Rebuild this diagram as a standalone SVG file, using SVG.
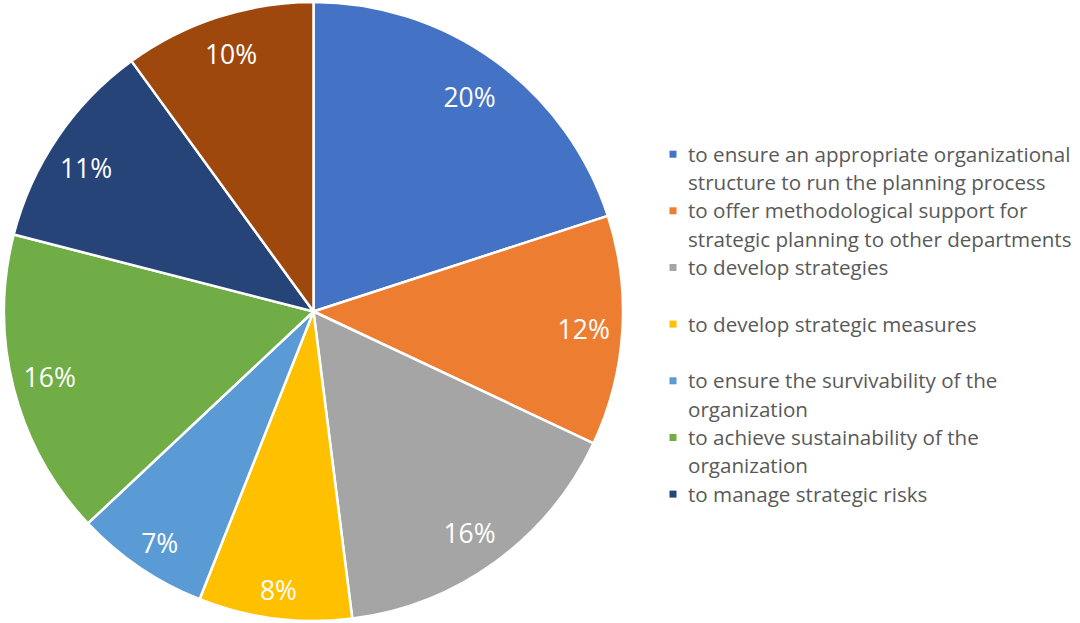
<svg xmlns="http://www.w3.org/2000/svg" width="1080" height="623" viewBox="0 0 1080 623">
<style>
.slice{stroke:#FFFFFF;stroke-width:2.5;stroke-linejoin:round}
.pct{font-family:"Open Sans","Liberation Sans",sans-serif;font-size:26.5px;fill:#FFFFFF;text-anchor:middle}
.leg{font-family:"Open Sans","Liberation Sans",sans-serif;font-size:20.6px;fill:#595959}
</style>
<rect width="1080" height="623" fill="#FFFFFF"/>
<g id="pie">
<g id="slice-1"><path class="slice" fill="#4472C4" d="M313.5,311.5 L313.5,2 A309.5,309.5 0 0 1 607.85,215.86 Z"/><text class="pct" x="469.5" y="107.3">20%</text></g>
<g id="slice-2"><path class="slice" fill="#ED7D31" d="M313.5,311.5 L607.85,215.86 A309.5,309.5 0 0 1 593.54,443.28 Z"/><text class="pct" x="583.7" y="339">12%</text></g>
<g id="slice-3"><path class="slice" fill="#A5A5A5" d="M313.5,311.5 L593.54,443.28 A309.5,309.5 0 0 1 352.29,618.56 Z"/><text class="pct" x="469.5" y="543.3">16%</text></g>
<g id="slice-4"><path class="slice" fill="#FFC000" d="M313.5,311.5 L352.29,618.56 A309.5,309.5 0 0 1 199.57,599.27 Z"/><text class="pct" x="278.5" y="600">8%</text></g>
<g id="slice-5"><path class="slice" fill="#5B9BD5" d="M313.5,311.5 L199.57,599.27 A309.5,309.5 0 0 1 87.88,523.37 Z"/><text class="pct" x="159.7" y="553.3">7%</text></g>
<g id="slice-6"><path class="slice" fill="#70AD47" d="M313.5,311.5 L87.88,523.37 A309.5,309.5 0 0 1 13.72,234.53 Z"/><text class="pct" x="49.7" y="386.7">16%</text></g>
<g id="slice-7"><path class="slice" fill="#264478" d="M313.5,311.5 L13.72,234.53 A309.5,309.5 0 0 1 131.58,61.11 Z"/><text class="pct" x="86" y="178.3">11%</text></g>
<g id="slice-8"><path class="slice" fill="#9E480E" d="M313.5,311.5 L131.58,61.11 A309.5,309.5 0 0 1 313.5,2 Z"/><text class="pct" x="231" y="64.3">10%</text></g>
</g>
<g id="legend">
<g id="legend-1"><rect x="669.5" y="150.7" width="7" height="7" fill="#4472C4"/><text class="leg" x="688" y="161.7">to ensure an appropriate organizational</text><text class="leg" x="688" y="190">structure to run the planning process</text></g>
<g id="legend-2"><rect x="669.5" y="207.3" width="7" height="7" fill="#ED7D31"/><text class="leg" x="688" y="218.3">to offer methodological support for</text><text class="leg" x="688" y="246.6">strategic planning to other departments</text></g>
<g id="legend-3"><rect x="669.5" y="264" width="7" height="7" fill="#A5A5A5"/><text class="leg" x="688" y="275">to develop strategies</text></g>
<g id="legend-4"><rect x="669.5" y="320.6" width="7" height="7" fill="#FFC000"/><text class="leg" x="688" y="331.6">to develop strategic measures</text></g>
<g id="legend-5"><rect x="669.5" y="377.3" width="7" height="7" fill="#5B9BD5"/><text class="leg" x="688" y="388.3">to ensure the survivability of the</text><text class="leg" x="688" y="416.6">organization</text></g>
<g id="legend-6"><rect x="669.5" y="434" width="7" height="7" fill="#70AD47"/><text class="leg" x="688" y="445">to achieve sustainability of the</text><text class="leg" x="688" y="473.3">organization</text></g>
<g id="legend-7"><rect x="669.5" y="490.6" width="7" height="7" fill="#264478"/><text class="leg" x="688" y="501.6">to manage strategic risks</text></g>
</g>
</svg>
